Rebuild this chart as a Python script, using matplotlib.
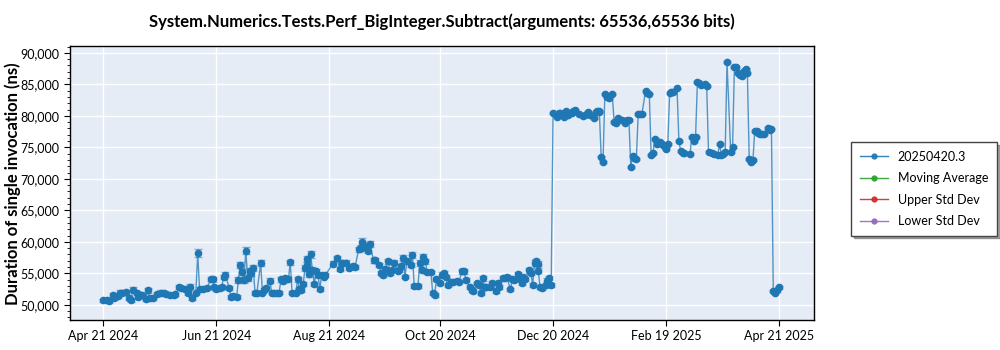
import numpy as np
import matplotlib
matplotlib.use("Agg")
import matplotlib.pyplot as plt
import matplotlib.dates as mdates
from matplotlib.ticker import FuncFormatter, MultipleLocator

plt.rcParams['font.family'] = ['Lato', 'DejaVu Sans']

start = np.datetime64('2024-04-21')

# days since 2024-04-21, value in ns, error in ns
days_a = [0, 2, 3, 5, 6, 8, 9, 10, 12, 14,
          15, 16, 18, 19, 21, 23, 24, 25, 27, 29,
          31, 33, 34, 36, 38, 39, 41, 42, 44, 46,
          47, 48, 50, 51, 52, 54, 56, 58, 59, 60,
          61, 63, 64, 65, 66, 68, 69, 70, 72, 73,
          74, 75, 76, 77, 78, 79, 80, 81, 82, 83,
          85, 86, 87, 88, 90, 91, 92, 94, 95, 96,
          97, 98, 100, 101, 102, 104, 105, 106, 107, 108,
          109, 110, 110, 111, 112, 113, 114, 115, 116, 117]
vals_a = [50700, 50800, 50600, 51600, 51100, 51400, 51950, 51850, 52000, 51050,
          50800, 52400, 51850, 51300, 51600, 50900, 52300, 51150, 51150, 51750,
          51950, 51950, 51750, 51600, 51600, 51650, 52800, 52650, 52550, 51850,
          52900, 51100, 51950, 58200, 52500, 52500, 52650, 54100, 54050, 52800,
          52500, 52650, 52900, 54400, 54750, 52650, 51200, 51450, 51200, 53950,
          56300, 55200, 53950, 58600, 54250, 55400, 55050, 55900, 51850, 51950,
          56600, 51950, 52400, 52650, 53850, 51950, 51850, 51850, 51950, 54050,
          53850, 54200, 54050, 56750, 51950, 51950, 54050, 52450, 52400, 53300,
          55850, 57250, 56350, 54900, 58000, 55550, 53300, 55300, 54750, 52550]
errs_a = [250, 250, 250, 300, 300, 300, 350, 300, 350, 300,
          300, 400, 300, 300, 350, 300, 400, 300, 300, 350,
          350, 300, 300, 300, 300, 300, 300, 300, 300, 300,
          400, 300, 300, 650, 300, 300, 300, 350, 350, 300,
          300, 300, 300, 350, 400, 300, 300, 300, 300, 400,
          500, 450, 400, 600, 400, 450, 400, 450, 300, 300,
          450, 300, 300, 300, 350, 300, 300, 300, 300, 350,
          300, 300, 300, 450, 300, 300, 350, 300, 300, 350,
          450, 450, 400, 400, 500, 400, 350, 400, 350, 300]

days_b = [118, 119, 120, 124, 126, 128, 129, 131, 133, 135,
          136, 138, 139, 140, 141, 142, 143, 144, 146, 147,
          149, 150, 151, 152, 154, 155, 156, 157, 159, 160,
          161, 162, 163, 164, 166, 167, 168, 170, 171, 172,
          173, 174, 175, 177, 178, 179, 180, 182, 183, 184,
          185, 186, 188, 189, 191, 192, 194, 195, 196, 198,
          199, 200, 202, 203, 204, 205, 206, 207, 209, 210,
          212, 213, 214, 216, 217, 218, 220, 221, 222, 224,
          225, 226, 227, 228, 230, 231, 232, 233, 234, 235,
          235, 236, 237, 239, 240, 241, 242]
vals_b = [54750, 54500, 54750, 56500, 57400, 55650, 56700, 56700, 55900, 56200,
          56000, 58850, 59000, 60050, 59250, 59350, 58600, 59700, 57050, 57050,
          56350, 55050, 54750, 55650, 56900, 55050, 55550, 56700, 55450, 55550,
          56100, 57400, 54500, 56900, 56350, 57950, 53000, 53000, 56700, 55550,
          57650, 56900, 55150, 55150, 51850, 51600, 54050, 53450, 54800, 55050,
          54500, 53150, 53700, 53700, 53850, 53700, 55300, 55300, 53950, 52850,
          52350, 52250, 53400, 53150, 51900, 54200, 52900, 52900, 52900, 53450,
          52200, 53450, 52900, 54250, 54250, 54400, 52450, 54050, 53950, 54850,
          54050, 53450, 54350, 54050, 55500, 55050, 53150, 56700, 56900, 56500,
          55400, 52850, 52650, 53150, 53850, 54250, 53100]
errs_b = [300, 300, 300, 400, 400, 350, 350, 350, 300, 300,
          300, 400, 450, 500, 400, 400, 400, 450, 350, 350,
          350, 300, 300, 350, 450, 300, 350, 400, 300, 300,
          350, 450, 300, 400, 350, 450, 300, 300, 450, 350,
          450, 400, 300, 300, 300, 300, 300, 300, 350, 350,
          300, 300, 300, 300, 300, 300, 350, 350, 300, 300,
          300, 300, 300, 350, 300, 400, 300, 300, 300, 300,
          300, 350, 300, 300, 300, 300, 300, 300, 300, 300,
          300, 300, 300, 300, 400, 350, 300, 450, 450, 400,
          400, 300, 300, 300, 350, 350, 300]

days_c = [243, 245, 246, 247, 249, 250, 251, 253, 254, 255,
          257, 259, 260, 262, 263, 265, 266, 267, 268, 268,
          269, 270, 271, 272, 273, 275, 276, 277, 278, 280,
          282, 283, 284, 285, 286, 287, 288, 289, 290, 291,
          293, 294, 295, 296, 297, 298, 299, 301, 302, 303,
          304, 305, 306, 307, 308, 310, 311, 312, 313, 314,
          317, 318, 319, 320, 321, 322, 323, 325, 326, 327,
          329, 330, 332, 333, 334, 335, 336, 337, 339, 340,
          341, 342, 343, 344, 345, 346, 347, 348, 349, 350,
          351, 352, 353, 354, 355, 356, 357, 359, 360, 361,
          362, 363, 364, 365]
vals_c = [80400, 79900, 80500, 80400, 79850, 80800, 80150, 80400, 80800, 80950,
          80300, 80000, 80150, 80600, 80150, 79700, 80600, 80800, 80600, 80800,
          73550, 72750, 83500, 83000, 82900, 83450, 79050, 78850, 79650, 79300,
          78950, 79400, 79350, 71950, 73650, 73300, 73100, 80300, 80300, 80250,
          84000, 83700, 83550, 73800, 74050, 76350, 75550, 75900, 75500, 75200,
          74700, 75550, 83700, 83800, 83750, 84350, 76000, 74400, 74100, 74050,
          73950, 76650, 75950, 76650, 85350, 85200, 84900, 85000, 84800, 74250,
          74100, 74000, 73850, 75500, 73750, 74000, 74200, 88500, 74250, 75050,
          87800, 87700, 86750, 86450, 86350, 87100, 87450, 86750, 73100, 72700,
          73000, 77650, 77650, 77350, 77050, 77050, 77100, 78100, 77800, 77900,
          52200, 51950, 52300, 52800]
errs_c = [150, 150, 150, 150, 150, 150, 150, 150, 150, 150,
          150, 150, 150, 150, 150, 150, 150, 150, 150, 150,
          150, 150, 150, 150, 150, 150, 150, 150, 150, 150,
          150, 150, 150, 150, 150, 150, 150, 150, 150, 150,
          150, 150, 150, 150, 150, 150, 150, 150, 150, 150,
          150, 150, 150, 150, 150, 150, 150, 150, 150, 150,
          150, 150, 150, 150, 150, 150, 150, 150, 150, 150,
          150, 150, 150, 150, 150, 150, 150, 150, 150, 150,
          150, 150, 150, 150, 150, 150, 150, 150, 150, 150,
          150, 150, 150, 150, 150, 150, 150, 150, 150, 150,
          200, 200, 200, 200]

tick_dates = ['2024-04-21', '2024-06-21', '2024-08-21', '2024-10-20',
              '2024-12-20', '2025-02-19', '2025-04-21']

days = np.array(days_a + days_b + days_c)
vals = np.array(vals_a + vals_b + vals_c)
errs = np.array(errs_a + errs_b + errs_c)
dates = (start + days.astype('timedelta64[D]')).astype('datetime64[ms]').astype(object)

blue = '#1f77b4'
fig = plt.figure(figsize=(10, 3.5), dpi=100)
ax = fig.add_axes([0.07, 0.0857, 0.744, 0.783])
ax.set_facecolor('#e5ecf6')

ax.errorbar(dates, vals, yerr=errs, fmt='none', ecolor=blue, elinewidth=1,
            capsize=3, alpha=0.55, zorder=2)
ax.plot(dates, vals, color=blue, lw=1, alpha=0.75, zorder=3)
ax.plot(dates, vals, 'o', color=blue, ms=4.5, zorder=4)

# legend handles
h1, = ax.plot([], [], '-o', color=blue, ms=3.5, lw=1, alpha=0.9, label='20250420.3')
h2, = ax.plot([], [], '-o', color='#2ca02c', ms=3.5, lw=1, alpha=0.9, label='Moving Average')
h3, = ax.plot([], [], '-o', color='#d62728', ms=3.5, lw=1, alpha=0.9, label='Upper Std Dev')
h4, = ax.plot([], [], '-o', color='#9467bd', ms=3.5, lw=1, alpha=0.9, label='Lower Std Dev')

ax.set_xlim(np.datetime64('2024-04-03'), np.datetime64('2025-05-10'))
ax.set_ylim(47600, 91100)
ax.set_xticks([np.datetime64(d) for d in tick_dates])
ax.xaxis.set_major_formatter(mdates.DateFormatter('%b %d %Y'))
ax.yaxis.set_major_locator(MultipleLocator(5000))
ax.yaxis.set_minor_locator(MultipleLocator(1000))
ax.yaxis.set_major_formatter(FuncFormatter(lambda v, p: f'{int(v):,}'))
ax.tick_params(labelsize=9, length=4, color='black')
ax.tick_params(which='minor', length=2)
ax.grid(True, color='white', lw=1)
ax.set_axisbelow(True)
for s in ax.spines.values():
    s.set_color('black')
    s.set_linewidth(1)

ax.set_title('System.Numerics.Tests.Perf_BigInteger.Subtract(arguments: 65536,65536 bits)',
             fontsize=12, fontweight='bold', pad=14)
fig.text(0.013, 0.476, 'Duration of single invocation (ns)', rotation=90,
         ha='center', va='center', fontsize=12, fontweight='bold')

fig.legend(handles=[h1, h2, h3, h4], loc='upper left', bbox_to_anchor=(0.845, 0.612),
           fontsize=9, shadow=True, fancybox=False, edgecolor='#444444',
           framealpha=1, handlelength=2.2, labelspacing=0.75, borderpad=0.7)

fig.savefig('out.png', dpi=100)
